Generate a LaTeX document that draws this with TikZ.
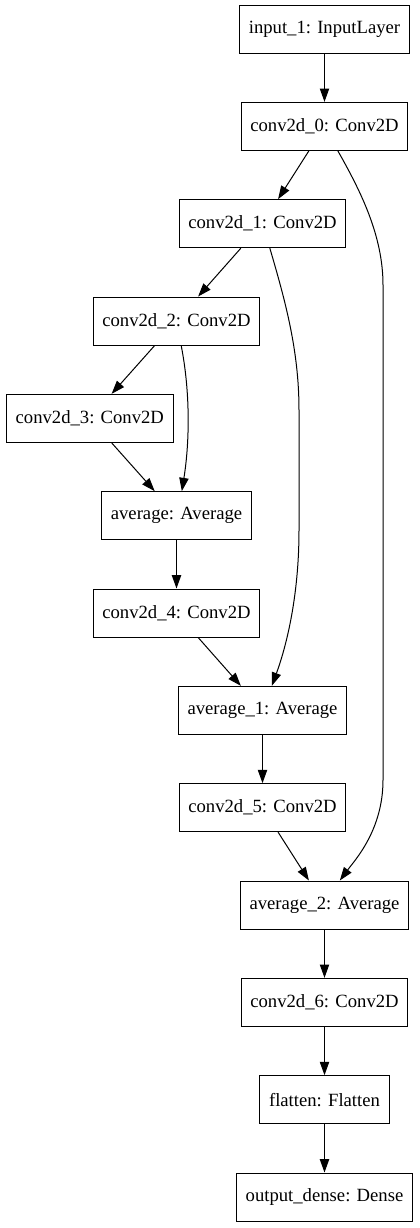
\documentclass[tikz,border=0pt]{standalone}
\usepackage{fontspec}
\setmainfont{Liberation Serif}
\usetikzlibrary{positioning,arrows.meta}

\begin{document}
\begin{tikzpicture}[%
    x=0.75pt, y=-0.75pt,          % pixel grid of the reference
    >={Triangle[length=10pt,width=7pt]},
    node distance=73pt and 46.5pt, % one layer below the other
    every node/.style={font=\fontsize{14pt}{16pt}\selectfont},
    ]
% -------------------------------------------------
% Box and line styles
\tikzset{
  layer/.style={draw, line width=0.75pt, rectangle, on grid, inner xsep=7pt, minimum height=36pt},
  norm/.style={->, draw, black, line width=0.75pt},
  }
\useasboundingbox (0,0) rectangle (419,1228);
% -------------------------------------------------
% Layers, top to bottom
\node [layer] (in1) at (324.5,29) {input\_1: InputLayer};
\node [layer, below=of in1] (c0) {conv2d\_0: Conv2D};
\node [layer, below left=of c0] (c1) {conv2d\_1: Conv2D};
\node [layer, below left=73pt and 64.5pt of c1] (c2) {conv2d\_2: Conv2D};
\node [layer, below left=73pt and 65pt of c2] (c3) {conv2d\_3: Conv2D};
\node [layer, below right=73pt and 65pt of c3] (avg0) {average: Average};
\node [layer, below=of avg0] (c4) {conv2d\_4: Conv2D};
\node [layer, below right=73pt and 64.5pt of c4] (avg1) {average\_1: Average};
\node [layer, below=of avg1] (c5) {conv2d\_5: Conv2D};
\node [layer, below right=of c5] (avg2) {average\_2: Average};
\node [layer, below=of avg2] (c6) {conv2d\_6: Conv2D};
\node [layer, below=of c6] (flat) {flatten: Flatten};
\node [layer, below=of flat] (dense) {output\_dense: Dense};

% -------------------------------------------------
% Connections
\draw [norm] (in1) -- (c0);
\draw [norm] (c0) -- (c1);
\draw [norm] (c1) -- (c2);
\draw [norm] (c2) -- (c3);
\draw [norm] (c3) -- (avg0);
\draw [norm] ([xshift=3.5pt]c2.south) .. controls (190,390) and (190,440) .. ([xshift=4pt]avg0.north);
\draw [norm] (avg0) -- (c4);
\draw [norm] (c4) -- (avg1);
\draw [norm] ([xshift=5.5pt]c1.south) .. controls (285,300) and (299,350) .. (299,410)
  -- (299,530) .. controls (299,600) and (285,650) .. ([xshift=7pt]avg1.north);
\draw [norm] (avg1) -- (c5);
\draw [norm] (c5) -- (avg2);
\draw [norm] ([xshift=10pt]c0.south) .. controls (360,190) and (383,235) .. (383,285)
  -- (383,780) .. controls (383,830) and (355,860) .. ([xshift=11.5pt]avg2.north);
\draw [norm] (avg2) -- (c6);
\draw [norm] (c6) -- (flat);
\draw [norm] (flat) -- (dense);
\end{tikzpicture}
\end{document}
